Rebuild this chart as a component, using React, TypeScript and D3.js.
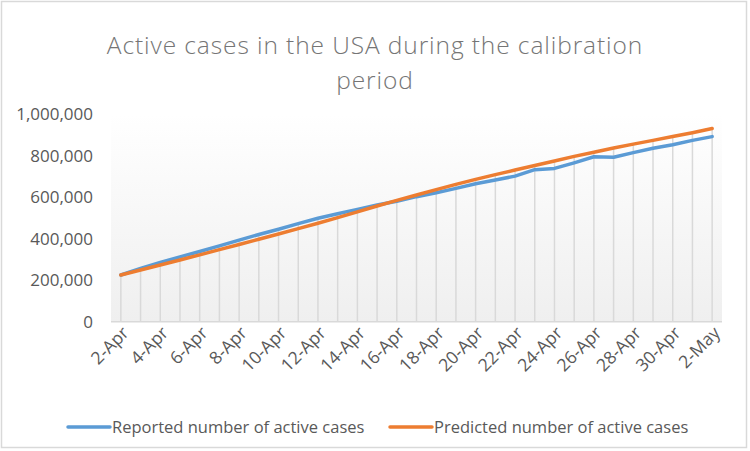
import React from "react";
import * as d3 from "d3";

const categories = [
  "2-Apr", "3-Apr", "4-Apr", "5-Apr", "6-Apr", "7-Apr", "8-Apr", "9-Apr", "10-Apr", "11-Apr",
  "12-Apr", "13-Apr", "14-Apr", "15-Apr", "16-Apr", "17-Apr", "18-Apr", "19-Apr", "20-Apr", "21-Apr",
  "22-Apr", "23-Apr", "24-Apr", "25-Apr", "26-Apr", "27-Apr", "28-Apr", "29-Apr", "30-Apr", "1-May", "2-May",
];

const reported = [
  225000, 256000, 285000, 312000, 338000, 365000, 393000, 420000, 445000, 472000,
  498000, 520000, 541000, 562000, 580000, 602000, 621000, 642000, 664000, 682000,
  701000, 732000, 738000, 765000, 794000, 792000, 814000, 835000, 852000, 873000, 891000,
];

const predicted = [
  225000, 249000, 273000, 297000, 322000, 347000, 372000, 397000, 422000, 448000,
  474000, 501000, 529000, 557000, 584000, 610000, 636000, 661000, 685000, 708000,
  730000, 752000, 774000, 796000, 816000, 836000, 855000, 873000, 892000, 910000, 930000,
];

const yTicks = [0, 200000, 400000, 600000, 800000, 1000000];

const seriesNames = ["Reported number of active cases", "Predicted number of active cases"];
const seriesColors = ["#5B9BD5", "#ED7D31"];

const FONT = "'Open Sans', 'Noto Sans', sans-serif";

export default function App() {
  const W = 750;
  const H = 451;
  const left = 111;
  const right = 722;
  const bottom = 321.7;
  const top = 114;

  const x = d3.scalePoint<string>().domain(categories).range([left, right]).padding(0.5);
  const y = d3.scaleLinear().domain([0, 1000000]).range([bottom, top]);
  const fmt = d3.format(",");

  const line = d3
    .line<number>()
    .x((_, i) => x(categories[i]) as number)
    .y((d) => y(d));

  const series = [reported, predicted];

  return (
    <svg
      width={W}
      height={H}
      style={{ position: "absolute", left: 0, top: 0 }}
      fontFamily={FONT}
    >
      <defs>
        <linearGradient id="plotGrad" x1="0" y1="0" x2="0" y2="1">
          <stop offset="0" stopColor="#ffffff" />
          <stop offset="1" stopColor="#efefef" />
        </linearGradient>
      </defs>
      <rect x={0} y={0} width={W} height={H} fill="#ffffff" />
      <rect x={1.5} y={1.5} width={745} height={446} fill="none" stroke="#d9d9d9" strokeWidth={1.5} />

      <text x={375} y={54} textAnchor="middle" fontSize={24.5} letterSpacing={0.9} fill="#757575" fontWeight={300}>
        Active cases in the USA during the calibration
      </text>
      <text x={375} y={89} textAnchor="middle" fontSize={24.5} letterSpacing={0.9} fill="#757575" fontWeight={300}>
        period
      </text>

      <rect x={left} y={top} width={right - left} height={bottom - top} fill="url(#plotGrad)" />

      {categories.map((c, i) => (
        <line
          key={"drop" + c}
          x1={x(c)}
          x2={x(c)}
          y1={bottom}
          y2={y(Math.max(reported[i], predicted[i]))}
          stroke="#d9d9d9"
          strokeWidth={1.5}
        />
      ))}

      <line x1={left} x2={right} y1={bottom} y2={bottom} stroke="#d9d9d9" strokeWidth={1.5} />

      {yTicks.map((t) => (
        <text
          key={"yt" + t}
          x={93}
          y={y(t)}
          dy="0.36em"
          textAnchor="end"
          fontSize={17}
          fill="#595959"
        >
          {fmt(t)}
        </text>
      ))}

      {categories.map((c, i) =>
        i % 2 === 0 ? (
          <text
            key={"xt" + c}
            transform={`translate(${(x(c) as number) + 9},334) rotate(-45)`}
            textAnchor="end"
            fontSize={17.5}
            fill="#595959"
          >
            {c}
          </text>
        ) : null
      )}

      {series.map((s, k) => (
        <path
          key={"s" + k}
          d={line(s) || ""}
          fill="none"
          stroke={seriesColors[k]}
          strokeWidth={3.5}
          strokeLinejoin="round"
          strokeLinecap="round"
        />
      ))}

      {seriesNames.map((n, k) => {
        const lx = k === 0 ? 68 : 390;
        return (
          <g key={"lg" + k}>
            <line x1={lx} x2={lx + 42} y1={427} y2={427} stroke={seriesColors[k]} strokeWidth={3.5} strokeLinecap="round" />
            <text x={lx + 44} y={427} dy="0.36em" fontSize={16.5} fill="#595959">
              {n}
            </text>
          </g>
        );
      })}
    </svg>
  );
}
